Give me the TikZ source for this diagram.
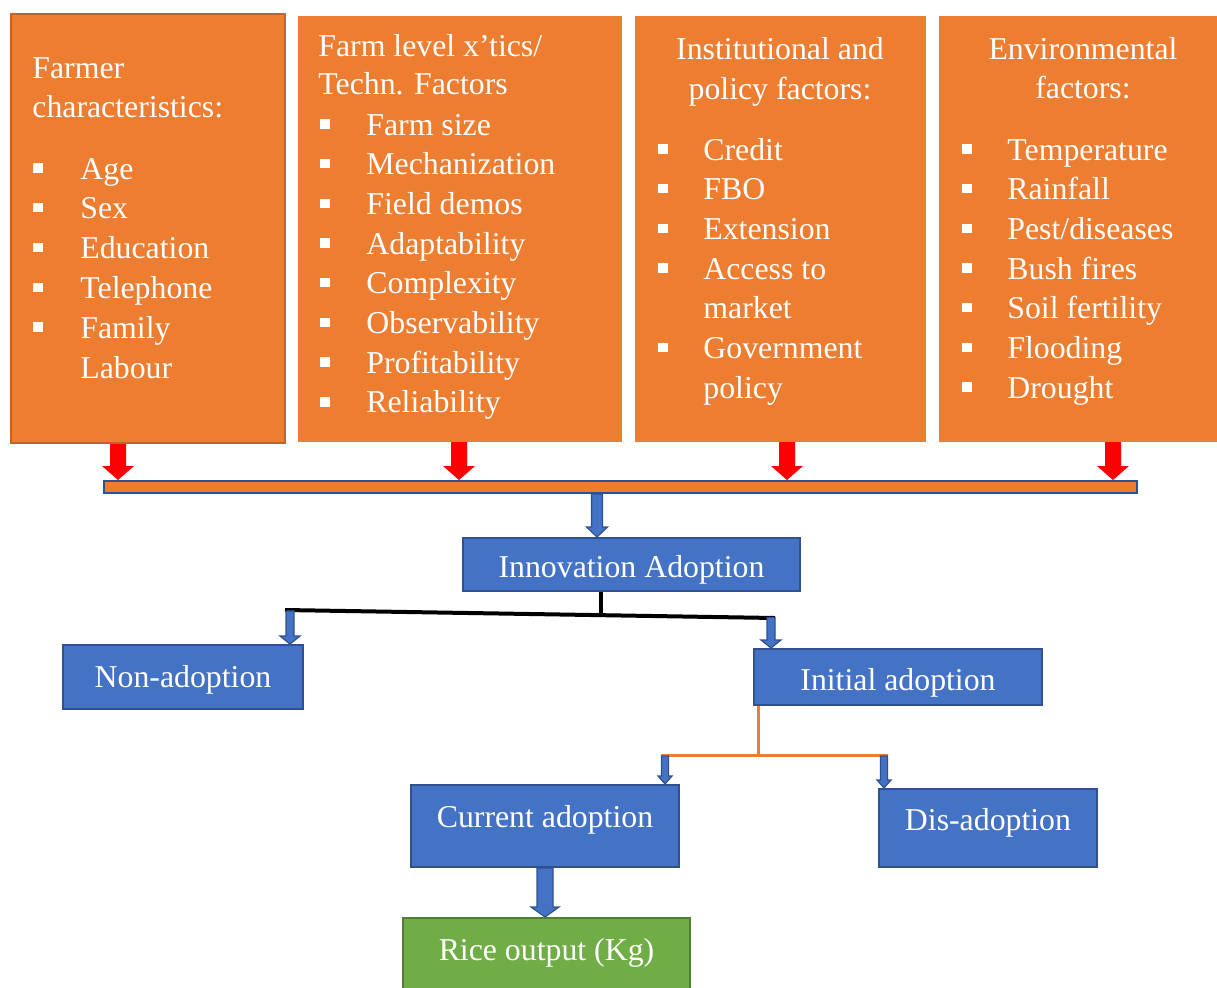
\documentclass[tikz,border=0pt]{standalone}
\usepackage{fontspec}
\setmainfont{Liberation Serif}
\usetikzlibrary{calc}

\definecolor{boxorange}{HTML}{ED7D31}
\definecolor{edgeorange}{HTML}{C0622A}
\definecolor{boxblue}{HTML}{4472C4}
\definecolor{edgeblue}{HTML}{2F528F}
\definecolor{boxgreen}{HTML}{70AD47}
\definecolor{edgegreen}{HTML}{507E32}

\newcommand{\diagfont}{\fontsize{15.9}{19.8}\selectfont}
% block arrow pointing down: [style]{from}{to}{half shaft}{half head}{head length}
\newcommand{\blockarrow}[6][]{%
  \path[#1] let \p1=(#2), \p2=(#3) in
    (\x1-#4,\y1) -- (\x1+#4,\y1) -- (\x1+#4,\y2+#6) -- (\x1+#5,\y2+#6)
    -- (\x1,\y2) -- (\x1-#5,\y2+#6) -- (\x1-#4,\y2+#6) -- cycle;}

\tikzset{
  factorbox/.style={rectangle, fill=boxorange, draw=boxorange, line width=1pt, inner sep=0pt},
  stagebox/.style={rectangle, fill=boxblue, draw=edgeblue, line width=1pt, inner sep=0pt, text=white, font=\diagfont},
  outputbox/.style={rectangle, fill=boxgreen, draw=edgegreen, line width=1pt, inner sep=0pt, text=white, font=\diagfont},
  listtext/.style={anchor=base west, inner sep=0pt, text=white, font=\diagfont},
  headtext/.style={anchor=base, inner sep=0pt, text=white, font=\diagfont},
  bulletmark/.style={anchor=south west, fill=white, minimum size=4.7pt, inner sep=0pt},
  redarrow/.style={fill=red},
  bluearrow/.style={fill=boxblue, draw=edgeblue, line width=0.6pt},
  blackline/.style={draw=black, line width=2pt},
  orangeline/.style={draw=boxorange, line width=1.5pt}
}

\begin{document}
\begin{tikzpicture}[x=0.5pt, y=-0.5pt]
  \useasboundingbox (0,0) rectangle (1217,987);

  % factor boxes
  \node[factorbox, draw=edgeorange, minimum width=137pt, minimum height=214.5pt] (farmer) at (148,228.5) {};
  \node[factorbox, minimum width=161pt, minimum height=212pt] (farmlevel) at (460,229) {};
  \node[factorbox, minimum width=144.5pt, minimum height=212pt] (institution) at (780.5,229) {};
  \node[factorbox, minimum width=138.5pt, minimum height=212pt] (environment) at (1078.5,229) {};

  % farmer characteristics
  \node[listtext] (farmerTitleA) at (32,78) {Farmer};
  \node[listtext] (farmerTitleB) at (32,117) {characteristics:};
  \foreach \txt/\bul [count=\i from 0] in {Age/1,Sex/1,Education/1,Telephone/1,Family/1,Labour/0}{
    \node[listtext] (farmer-\i) at (80,{179+39.8*\i}) {\txt};
    \ifnum\bul=1 \node[bulletmark] (farmer-b\i) at (33,{173+39.8*\i}) {}; \fi
  }

  % farm level / technology factors
  \node[listtext] (farmTitleA) at (318,56) {Farm level x’tics/};
  \node[listtext] (farmTitleB) at (318,94) {Techn. Factors};
  \foreach \txt [count=\i from 0] in {Farm size,Mechanization,Field demos,Adaptability,Complexity,Observability,Profitability,Reliability}{
    \node[listtext] (farm-\i) at (366,{135+39.7*\i}) {\txt};
    \node[bulletmark] (farm-b\i) at (320,{129+39.7*\i}) {};
  }

  % institutional and policy factors
  \node[headtext] (instTitleA) at (780,59) {Institutional and};
  \node[headtext] (instTitleB) at (780,99) {policy factors:};
  \foreach \txt/\bul [count=\i from 0] in {Credit/1,FBO/1,Extension/1,Access to/1,market/0,Government/1,policy/0}{
    \node[listtext] (inst-\i) at (703,{160+39.7*\i}) {\txt};
    \ifnum\bul=1 \node[bulletmark] (inst-b\i) at (658,{154+39.7*\i}) {}; \fi
  }

  % environmental factors
  \node[headtext] (envTitleA) at (1083,59) {Environmental};
  \node[headtext] (envTitleB) at (1083,98) {factors:};
  \foreach \txt [count=\i from 0] in {Temperature,Rainfall,{Pest/diseases},Bush fires,Soil fertility,Flooding,Drought}{
    \node[listtext] (env-\i) at (1007,{160+39.7*\i}) {\txt};
    \node[bulletmark] (env-b\i) at (962,{154+39.7*\i}) {};
  }

  % collecting bar
  \node[rectangle, fill=boxorange, draw=edgeblue, line width=1pt, minimum width=516.5pt, minimum height=6pt, inner sep=0pt] (bar) at (620.5,487) {};

  \coordinate (r1) at ([xshift=-15pt]farmer.south);
  \coordinate (r2) at ([xshift=-0.5pt]farmlevel.south);
  \coordinate (r3) at ([xshift=3.25pt]institution.south);
  \coordinate (r4) at ([xshift=17.25pt]environment.south);
  \foreach \r in {r1,r2,r3,r4}
    \blockarrow[redarrow]{\r}{bar.north}{4pt}{8pt}{7pt};

  % adoption stages
  \node[stagebox, minimum width=168.5pt, minimum height=26.5pt, text height=16pt] (innovation) at (631.5,564.5) {Innovation Adoption};
  \node[stagebox, minimum width=120pt, minimum height=32pt, text height=14pt] (nonadopt) at (183,677) {Non-adoption};
  \node[stagebox, minimum width=144pt, minimum height=28pt, text height=17pt] (initial) at (898,677) {Initial adoption};
  \node[stagebox, minimum width=134pt, minimum height=41pt, text depth=10pt] (current) at (545,826) {Current adoption};
  \node[stagebox, minimum width=109pt, minimum height=39pt, text depth=9pt] (disadopt) at (988,828) {Dis-adoption};
  \node[outputbox, minimum width=143.5pt, minimum height=41pt, text depth=10pt] (rice) at (546.5,959) {Rice output (Kg)};

  \coordinate (barOut) at ([xshift=-11.75pt]bar.south);
  \blockarrow[bluearrow]{barOut}{innovation.north}{2.75pt}{5.25pt}{5pt};

  % split after innovation adoption
  \coordinate (splitC) at (601,613);
  \coordinate (splitL) at (285,610);
  \coordinate (splitR) at (775,618);
  \draw[blackline] (innovation.south -| splitC) -- (splitC);
  \draw[blackline] (splitL) -- (splitR);
  \coordinate (toNon) at (290,611);
  \coordinate (toInit) at (771,617.5);
  \blockarrow[bluearrow]{toNon}{nonadopt.north}{2pt}{5pt}{4pt};
  \blockarrow[bluearrow]{toInit}{initial.north}{2pt}{5pt}{4pt};

  % split after initial adoption
  \coordinate (orgC) at (758,755);
  \coordinate (orgL) at (661,755);
  \coordinate (orgR) at (888,755);
  \draw[orangeline] (initial.south -| orgC) -- (orgC);
  \draw[orangeline] (orgL) -- (orgR);
  \coordinate (toCur) at (665,756);
  \coordinate (toDis) at (884,756);
  \blockarrow[bluearrow]{toCur}{current.north}{1.75pt}{3.5pt}{4pt};
  \blockarrow[bluearrow]{toDis}{disadopt.north}{1.75pt}{3.5pt}{4pt};

  \blockarrow[bluearrow]{current.south}{rice.north}{4pt}{7pt}{5pt};
\end{tikzpicture}
\end{document}
